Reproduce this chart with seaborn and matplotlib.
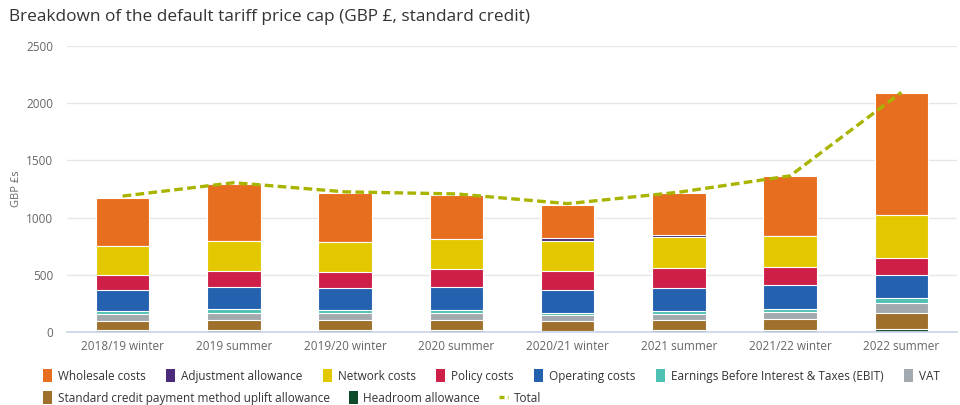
import numpy as np
import matplotlib
matplotlib.use('Agg')
import matplotlib.pyplot as plt
from matplotlib.patches import Patch
from matplotlib.lines import Line2D
import seaborn as sns

periods = ['2018/19 winter', '2019 summer', '2019/20 winter', '2020 summer',
           '2020/21 winter', '2021 summer', '2021/22 winter', '2022 summer']

# GBP per component (bottom of the stack first)
headroom = [15, 15, 15, 15, 5, 15, 15, 30]
sc_uplift = [84, 93, 90, 90, 94, 90, 99, 133]
vat = [58, 62, 58, 58, 50, 55, 61, 93]
ebit = [24, 29, 30, 30, 20, 26, 29, 38]
operating = [186, 192, 195, 198, 198, 199, 204, 204]
policy = [134, 146, 139, 160, 169, 172, 158, 146]
network = [251, 262, 263, 265, 259, 271, 276, 379]
adjustment = [0, 0, 0, 0, 24, 20, 0, 0]
wholesale = [422, 496, 428, 383, 292, 370, 524, 1063]
total = [1188, 1305, 1225, 1207, 1122, 1222, 1365, 2095]

layers = [
    ('Headroom allowance', headroom, '#0d4a2b'),
    ('Standard credit payment method uplift allowance', sc_uplift, '#9e702b'),
    ('VAT', vat, '#a2a9af'),
    ('Earnings Before Interest & Taxes (EBIT)', ebit, '#4fc1b4'),
    ('Operating costs', operating, '#2462b0'),
    ('Policy costs', policy, '#ce1f48'),
    ('Network costs', network, '#e3c800'),
    ('Adjustment allowance', adjustment, '#4b2a7b'),
    ('Wholesale costs', wholesale, '#e86e1f'),
]
line_col = '#a8b400'

sns.set_theme(style='white')
plt.rcParams['font.family'] = ['Open Sans', 'DejaVu Sans']

fig = plt.figure(figsize=(9.6, 4.05), dpi=100)
ax = fig.add_axes([67/960, 1-332/405, 890/960, 286/405])

# stacked bars: draw running totals from the top layer down
cum = np.cumsum([l[1] for l in layers], axis=0)
for i in range(len(layers) - 1, -1, -1):
    sns.barplot(x=periods, y=cum[i], color=layers[i][2], saturation=1,
                width=0.48, edgecolor='white', linewidth=0.8, ax=ax, zorder=2)

sns.lineplot(x=np.arange(len(periods)), y=total, color=line_col, lw=2.4,
             linestyle=(0, (2.6, 1.3)), ax=ax, zorder=3)

ax.set_xlim(-0.5, len(periods) - 0.5)
ax.set_ylim(0, 2500)
ax.set_yticks(np.arange(0, 2501, 500))
ax.grid(axis='y', color='#e6e6e6', lw=1, zorder=0)
ax.set_axisbelow(True)
for s in ['top', 'right', 'left']:
    ax.spines[s].set_visible(False)
ax.spines['bottom'].set_color('#ccd6eb')
ax.tick_params(axis='both', length=0, labelsize=8.5, colors='#666666')
ax.tick_params(axis='x', pad=6)
ax.tick_params(axis='y', pad=10)
ax.set_xlabel('')
ax.set_ylabel('GBP £s', fontsize=8, color='#666666')
ax.yaxis.set_label_coords(-0.05, 0.5)

fig.text(9/960, 1-17/405, 'Breakdown of the default tariff price cap (GBP £, standard credit)',
         fontsize=12.4, color='#333333', va='center', ha='left')

leg_font = {'family': ['Open Sans', 'DejaVu Sans'], 'size': 8.5}
order1 = ['Wholesale costs', 'Adjustment allowance', 'Network costs', 'Policy costs',
          'Operating costs', 'Earnings Before Interest & Taxes (EBIT)', 'VAT']
order2 = ['Standard credit payment method uplift allowance', 'Headroom allowance']
colmap = {l[0]: l[2] for l in layers}
h1 = [Patch(facecolor=colmap[n], edgecolor='none', label=n) for n in order1]
h2 = [Patch(facecolor=colmap[n], edgecolor='none', label=n) for n in order2]
h2.append(Line2D([0], [0], color=line_col, lw=2.4, linestyle=(0, (1.5, 1)), label='Total'))

for hs, yy, cs in [(h1, 1-376/405, 1.75), (h2, 1-398/405, 1.6)]:
    fig.legend(handles=hs, loc='center left', bbox_to_anchor=(43/960, yy),
               ncol=len(hs), frameon=False, prop=leg_font, borderpad=0,
               borderaxespad=0, handlelength=0.75, handleheight=1.3,
               handletextpad=0.5, columnspacing=cs, labelcolor='#333333')

fig.savefig('out.png', dpi=100)
